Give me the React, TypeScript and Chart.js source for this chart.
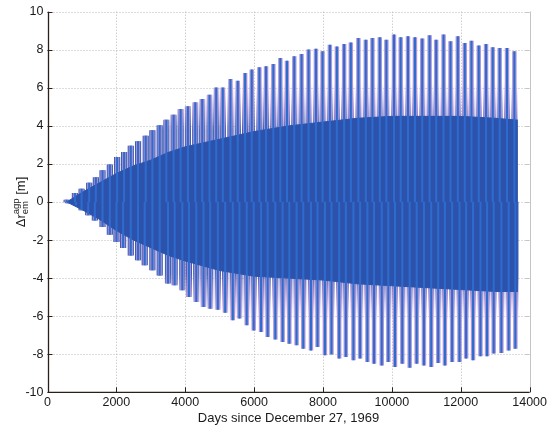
import React, { useEffect, useRef } from "react";
import { Chart, registerables } from "chart.js";

Chart.register(...registerables);

// ---------- data ----------
const xTickValues = [0, 2000, 4000, 6000, 8000, 10000, 12000, 14000];
const yTickValues = [-10, -8, -6, -4, -2, 0, 2, 4, 6, 8, 10];

const xTitle = "Days since December 27, 1969";

// upper spike positions (days) and peak values (m)
const upperDays = [
  556, 796, 990, 1211, 1404, 1598, 1810, 2022, 2225, 2418, 2630, 2852, 3046, 3258, 3451,
  3663, 3866, 4077, 4291, 4494, 4705, 4899, 5090, 5313, 5525, 5739, 5931, 6153, 6347,
  6558, 6761, 6954, 7166, 7378, 7581, 7795, 7987, 8200, 8403, 8614, 8808, 9028, 9243,
  9436, 9649, 9840, 10062, 10256, 10468, 10670, 10882, 11096, 11287, 11501, 11703, 11915,
  12118, 12312, 12523, 12735, 12929, 13131, 13343, 13557,
];
const upperPeaks = [
  0.1, 0.45, 0.68, 1.0, 1.28, 1.65, 1.95, 2.35, 2.61, 2.94, 3.17, 3.47, 3.75, 4.01, 4.31,
  4.57, 4.87, 5.01, 5.22, 5.4, 5.62, 6.0, 6.0, 6.45, 6.36, 6.76, 6.94, 7.06, 7.11,
  7.24, 7.55, 7.41, 7.64, 7.76, 7.99, 8.04, 7.9, 8.25, 8.16, 8.29, 8.37, 8.6, 8.51,
  8.6, 8.64, 8.51, 8.78, 8.64, 8.69, 8.64, 8.57, 8.74, 8.51, 8.78, 8.43, 8.69,
  8.34, 8.46, 8.21, 8.29, 8.11, 8.08, 8.08, 7.9,
];

// lower spike positions (days) and trough values (m)
const lowerDays = [
  602, 825, 990, 1182, 1375, 1598, 1810, 2003, 2196, 2418, 2630, 2823, 3046, 3258, 3499,
  3692, 3915, 4107, 4320, 4531, 4725, 4946, 5160, 5380, 5574, 5785, 5988, 6202, 6393,
  6616, 6828, 7022, 7233, 7427, 7650, 7841, 8055, 8247, 8470, 8663, 8884, 9078, 9289,
  9483, 9706, 9897, 10091, 10303, 10517, 10720, 10931, 11143, 11346, 11540, 11750, 11964,
  12156, 12358, 12573, 12764, 12957, 13180, 13392, 13586,
];
const lowerTroughs = [
  -0.05, -0.16, -0.42, -0.68, -0.95, -1.3, -1.7, -2.08, -2.4, -2.79, -3.05, -3.31, -3.57,
  -3.84, -4.27, -4.36, -4.62, -4.97, -5.24, -5.5, -5.59, -5.65, -5.8, -6.2, -6.11, -6.46,
  -6.73, -6.81, -7.08, -7.21, -7.34, -7.43, -7.51, -7.69, -7.78, -7.6, -8.04, -7.99, -8.21,
  -8.13, -8.3, -8.21, -8.39, -8.48, -8.57, -8.39, -8.65, -8.48, -8.69, -8.48, -8.57, -8.65,
  -8.44, -8.57, -8.39, -8.39, -8.21, -8.3, -8.09, -8.09, -7.95, -7.92, -7.78, -7.69,
];

// inner dense band (solid blue) envelope
const bandDays = [560, 1000, 1500, 2000, 2500, 3000, 3500, 4000, 5000, 6000, 7000, 8000, 9000, 10000, 11000, 12000, 13000, 13660];
const bandUpper = [0, 0.5, 1.0, 1.5, 1.9, 2.2, 2.6, 2.9, 3.3, 3.7, 4.0, 4.2, 4.4, 4.5, 4.5, 4.5, 4.4, 4.3];
const bandLower = [0, -0.4, -0.9, -1.5, -2.0, -2.4, -2.8, -3.1, -3.6, -3.9, -4.0, -4.1, -4.3, -4.4, -4.5, -4.6, -4.7, -4.7];

// ---------- styles ----------
const BAND_COLOR = "#2c52ab";
const CORE_COLOR = "#2d6cce";
const HALO_COLOR = "rgba(172,146,212,0.95)";
const FONT = "Arial, 'Liberation Sans', Helvetica, sans-serif";

function fadeFill(up: boolean) {
  return (c: any) => {
    const chart = c.chart;
    const area = chart.chartArea;
    if (!area || !chart.scales.y) return BAND_COLOR;
    const y0 = chart.scales.y.getPixelForValue(0);
    const y1 = chart.scales.y.getPixelForValue(up ? 9 : -9);
    const g = chart.ctx.createLinearGradient(0, y0, 0, y1);
    g.addColorStop(0, "rgba(44,82,171,1)");
    g.addColorStop(0.42, "rgba(44,82,171,1)");
    g.addColorStop(0.55, "rgba(110,105,195,0.6)");
    g.addColorStop(0.7, "rgba(176,148,210,0)");
    g.addColorStop(1, "rgba(176,148,210,0)");
    return g;
  };
}

const frame = {
  id: "matlabFrame",
  beforeDatasetsDraw(chart: any) {
    const { ctx, chartArea, scales } = chart;
    const { left, right, top, bottom } = chartArea;
    ctx.save();
    ctx.strokeStyle = "#b8b8b8";
    ctx.lineWidth = 1;
    ctx.setLineDash([1, 2]);
    xTickValues.forEach((v) => {
      const x = Math.round(scales.x.getPixelForValue(v)) + 0.5;
      ctx.beginPath();
      ctx.moveTo(x, top);
      ctx.lineTo(x, bottom);
      ctx.stroke();
    });
    yTickValues.forEach((v) => {
      const y = Math.round(scales.y.getPixelForValue(v)) + 0.5;
      ctx.beginPath();
      ctx.moveTo(left, y);
      ctx.lineTo(right, y);
      ctx.stroke();
    });
    ctx.restore();
  },
  afterDraw(chart: any) {
    const { ctx, chartArea, scales } = chart;
    const { left, right, top, bottom } = chartArea;
    ctx.save();
    ctx.setLineDash([]);
    // right border (light)
    ctx.strokeStyle = "#c4c4c4";
    ctx.lineWidth = 1;
    ctx.beginPath();
    ctx.moveTo(Math.round(right) + 0.5, top);
    ctx.lineTo(Math.round(right) + 0.5, bottom);
    ctx.stroke();
    yTickValues.forEach((v) => {
      const y = Math.round(scales.y.getPixelForValue(v)) + 0.5;
      ctx.beginPath();
      ctx.moveTo(right, y);
      ctx.lineTo(right - 4, y);
      ctx.stroke();
    });
    // left and bottom axes
    ctx.strokeStyle = "#2a1f1a";
    ctx.lineWidth = 1.3;
    ctx.beginPath();
    ctx.moveTo(Math.round(left) + 0.5, top);
    ctx.lineTo(Math.round(left) + 0.5, bottom);
    ctx.lineTo(right, bottom);
    ctx.stroke();
    ctx.lineWidth = 1;
    yTickValues.forEach((v) => {
      const y = Math.round(scales.y.getPixelForValue(v)) + 0.5;
      ctx.beginPath();
      ctx.moveTo(left, y);
      ctx.lineTo(left + 5, y);
      ctx.stroke();
    });
    xTickValues.forEach((v) => {
      const x = Math.round(scales.x.getPixelForValue(v)) + 0.5;
      ctx.beginPath();
      ctx.moveTo(x, bottom);
      ctx.lineTo(x, bottom - 5);
      ctx.stroke();
    });

    // x title
    ctx.fillStyle = "#1a1a1a";
    ctx.font = `13px ${FONT}`;
    ctx.textAlign = "center";
    ctx.textBaseline = "middle";
    ctx.fillText(xTitle, (left + right) / 2, 418);

    // y title: Δr_em^agp [m], rotated
    const big = `13px ${FONT}`;
    const small = `9.5px ${FONT}`;
    ctx.font = big;
    const wMain = ctx.measureText("\u0394r").width;
    const wUnit = ctx.measureText(" [m]").width;
    ctx.font = small;
    const wSup = ctx.measureText("agp").width;
    const wSub = ctx.measureText("em").width;
    const wScript = Math.max(wSup, wSub);
    const total = wMain + wScript + wUnit;
    const cy = (top + bottom) / 2;
    ctx.translate(25, cy);
    ctx.rotate(-Math.PI / 2);
    ctx.textAlign = "left";
    ctx.textBaseline = "alphabetic";
    let x0 = -total / 2;
    ctx.font = big;
    ctx.fillText("\u0394r", x0, 0);
    x0 += wMain;
    ctx.font = small;
    ctx.fillText("agp", x0, -6);
    ctx.fillText("em", x0, 3);
    x0 += wScript;
    ctx.font = big;
    ctx.fillText(" [m]", x0, 0);
    ctx.restore();
  },
};

export default function App() {
  const ref = useRef<HTMLCanvasElement | null>(null);

  useEffect(() => {
    if (!ref.current) return;
    const upperBars = upperDays.map((d, i) => ({ x: d, y: [0, upperPeaks[i]] }));
    const lowerBars = lowerDays.map((d, i) => ({ x: d, y: [lowerTroughs[i], 0] }));
    const bandTop = bandDays.map((d, i) => ({ x: d, y: bandUpper[i] }));
    const bandBottom = bandDays.map((d, i) => ({ x: d, y: bandLower[i] }));

    const barDefaults = { type: "bar", grouped: false, borderWidth: 0 };

    const chart = new Chart(ref.current, {
      type: "bar",
      data: {
        datasets: [
          { ...barDefaults, data: upperBars as any, backgroundColor: fadeFill(true), barThickness: 5.5, order: 6 },
          { ...barDefaults, data: lowerBars as any, backgroundColor: fadeFill(false), barThickness: 5.5, order: 6 },
          { ...barDefaults, data: upperBars as any, backgroundColor: HALO_COLOR, barThickness: 3.8, order: 5 },
          { ...barDefaults, data: lowerBars as any, backgroundColor: HALO_COLOR, barThickness: 3.8, order: 5 },
          {
            type: "line",
            data: bandTop as any,
            borderColor: BAND_COLOR,
            borderWidth: 1,
            backgroundColor: BAND_COLOR,
            pointRadius: 0,
            tension: 0,
            fill: "+1",
            order: 3,
          },
          {
            type: "line",
            data: bandBottom as any,
            borderColor: BAND_COLOR,
            borderWidth: 1,
            backgroundColor: BAND_COLOR,
            pointRadius: 0,
            tension: 0,
            fill: false,
            order: 3,
          },
          { ...barDefaults, data: upperBars as any, backgroundColor: CORE_COLOR, barThickness: 1.4, order: 1 },
          { ...barDefaults, data: lowerBars as any, backgroundColor: CORE_COLOR, barThickness: 1.4, order: 1 },
        ] as any,
      },
      options: {
        animation: false,
        responsive: false,
        devicePixelRatio: 1,
        layout: { padding: { left: 0, right: 19, top: 11.7, bottom: 0 } },
        plugins: {
          legend: { display: false },
          tooltip: { enabled: false },
          title: { display: false },
        },
        scales: {
          x: {
            type: "linear",
            min: 0,
            max: 14000,
            offset: false,
            grid: { display: false, offset: false, drawTicks: false },
            border: { display: false },
            afterBuildTicks: (s: any) => {
              s.ticks = xTickValues.map((v) => ({ value: v }));
            },
            afterFit: (s: any) => {
              s.height = 42.7;
            },
            ticks: {
              color: "#1a1a1a",
              font: { family: FONT, size: 12.5 },
              padding: 3,
              maxRotation: 0,
              autoSkip: false,
              callback: (v: any) => String(v),
            },
          },
          y: {
            type: "linear",
            min: -10,
            max: 10,
            grid: { display: false, drawTicks: false },
            border: { display: false },
            afterBuildTicks: (s: any) => {
              s.ticks = yTickValues.map((v) => ({ value: v }));
            },
            afterFit: (s: any) => {
              s.width = 47.5;
            },
            ticks: {
              color: "#1a1a1a",
              font: { family: FONT, size: 12.5 },
              padding: 4,
              autoSkip: false,
              callback: (v: any) => String(v),
            },
          },
        },
      } as any,
      plugins: [frame],
    });
    return () => chart.destroy();
  }, []);

  return (
    <div style={{ position: "absolute", left: 0, top: 0, width: 550, height: 435, background: "#fff" }}>
      <canvas ref={ref} width={550} height={435} style={{ width: 550, height: 435, display: "block" }} />
    </div>
  );
}
